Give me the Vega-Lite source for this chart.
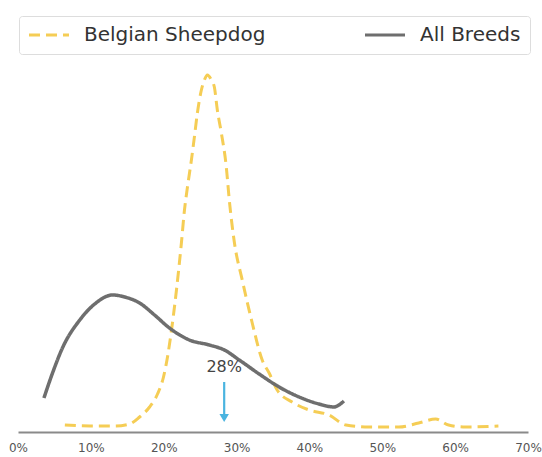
{
  "$schema": "https://vega.github.io/schema/vega-lite/v6.json",
  "autosize": "none",
  "width": 510,
  "height": 372,
  "padding": {"left": 18, "top": 60, "right": 14, "bottom": 25},
  "background": "white",
  "config": {
    "view": {"stroke": null},
    "font": "DejaVu Sans",
    "legend": {"title": null, "orient": "none", "legendX": 1, "legendY": -44, "direction": "horizontal",
               "symbolType": "M-4,0H4", "symbolSize": 100, "symbolStrokeWidth": 3, "symbolOffset": 11,
               "labelFontSize": 20, "labelColor": "#333333", "labelOffset": 25, "labelLimit": 400, "columnPadding": 93,
               "padding": 9, "strokeColor": "#dddddd", "fillColor": "white", "cornerRadius": 3}
  },
  "datasets": {
    "curves": [
      {"series": "Belgian Sheepdog", "pct": 6.43, "dens": 7},
      {"series": "Belgian Sheepdog", "pct": 9.85, "dens": 6},
      {"series": "Belgian Sheepdog", "pct": 13.27, "dens": 6},
      {"series": "Belgian Sheepdog", "pct": 15.32, "dens": 8},
      {"series": "Belgian Sheepdog", "pct": 16.69, "dens": 15},
      {"series": "Belgian Sheepdog", "pct": 18.06, "dens": 25},
      {"series": "Belgian Sheepdog", "pct": 19.15, "dens": 38},
      {"series": "Belgian Sheepdog", "pct": 19.97, "dens": 55},
      {"series": "Belgian Sheepdog", "pct": 20.52, "dens": 75},
      {"series": "Belgian Sheepdog", "pct": 21.07, "dens": 102},
      {"series": "Belgian Sheepdog", "pct": 21.75, "dens": 142},
      {"series": "Belgian Sheepdog", "pct": 22.44, "dens": 190},
      {"series": "Belgian Sheepdog", "pct": 22.85, "dens": 222},
      {"series": "Belgian Sheepdog", "pct": 23.26, "dens": 245},
      {"series": "Belgian Sheepdog", "pct": 23.8, "dens": 272},
      {"series": "Belgian Sheepdog", "pct": 24.21, "dens": 295},
      {"series": "Belgian Sheepdog", "pct": 24.62, "dens": 319},
      {"series": "Belgian Sheepdog", "pct": 25.17, "dens": 342},
      {"series": "Belgian Sheepdog", "pct": 25.58, "dens": 352},
      {"series": "Belgian Sheepdog", "pct": 25.99, "dens": 357},
      {"series": "Belgian Sheepdog", "pct": 26.54, "dens": 352},
      {"series": "Belgian Sheepdog", "pct": 26.95, "dens": 345},
      {"series": "Belgian Sheepdog", "pct": 27.36, "dens": 322},
      {"series": "Belgian Sheepdog", "pct": 27.91, "dens": 299},
      {"series": "Belgian Sheepdog", "pct": 28.59, "dens": 265},
      {"series": "Belgian Sheepdog", "pct": 29.0, "dens": 232},
      {"series": "Belgian Sheepdog", "pct": 29.69, "dens": 190},
      {"series": "Belgian Sheepdog", "pct": 30.78, "dens": 152},
      {"series": "Belgian Sheepdog", "pct": 32.15, "dens": 109},
      {"series": "Belgian Sheepdog", "pct": 33.52, "dens": 72},
      {"series": "Belgian Sheepdog", "pct": 34.47, "dens": 59},
      {"series": "Belgian Sheepdog", "pct": 35.57, "dens": 42},
      {"series": "Belgian Sheepdog", "pct": 37.62, "dens": 30},
      {"series": "Belgian Sheepdog", "pct": 39.95, "dens": 22},
      {"series": "Belgian Sheepdog", "pct": 42.68, "dens": 17},
      {"series": "Belgian Sheepdog", "pct": 45.01, "dens": 7},
      {"series": "Belgian Sheepdog", "pct": 48.15, "dens": 5},
      {"series": "Belgian Sheepdog", "pct": 52.26, "dens": 5},
      {"series": "Belgian Sheepdog", "pct": 55.0, "dens": 9},
      {"series": "Belgian Sheepdog", "pct": 57.32, "dens": 13},
      {"series": "Belgian Sheepdog", "pct": 59.1, "dens": 7},
      {"series": "Belgian Sheepdog", "pct": 61.42, "dens": 5},
      {"series": "Belgian Sheepdog", "pct": 65.94, "dens": 6},
      {"series": "All Breeds", "pct": 3.56, "dens": 34},
      {"series": "All Breeds", "pct": 4.79, "dens": 60},
      {"series": "All Breeds", "pct": 6.16, "dens": 85},
      {"series": "All Breeds", "pct": 8.48, "dens": 112},
      {"series": "All Breeds", "pct": 10.53, "dens": 128},
      {"series": "All Breeds", "pct": 13.0, "dens": 137},
      {"series": "All Breeds", "pct": 14.64, "dens": 135},
      {"series": "All Breeds", "pct": 16.69, "dens": 129},
      {"series": "All Breeds", "pct": 18.74, "dens": 117},
      {"series": "All Breeds", "pct": 20.79, "dens": 104},
      {"series": "All Breeds", "pct": 23.53, "dens": 92},
      {"series": "All Breeds", "pct": 26.27, "dens": 87},
      {"series": "All Breeds", "pct": 28.32, "dens": 82},
      {"series": "All Breeds", "pct": 30.37, "dens": 72},
      {"series": "All Breeds", "pct": 33.1, "dens": 58},
      {"series": "All Breeds", "pct": 35.84, "dens": 45},
      {"series": "All Breeds", "pct": 38.58, "dens": 35},
      {"series": "All Breeds", "pct": 41.31, "dens": 28},
      {"series": "All Breeds", "pct": 43.37, "dens": 25},
      {"series": "All Breeds", "pct": 44.05, "dens": 27},
      {"series": "All Breeds", "pct": 44.73, "dens": 31}
    ],
    "marker": [
      {"pct": 28.3, "top": 50, "bottom": 17, "tip": 14, "labelY": 65, "label": "28%"}
    ]
  },
  "layer": [
    {
      "data": {"name": "curves"},
      "transform": [{"filter": "datum.series === 'Belgian Sheepdog'"}],
      "mark": {"type": "line", "interpolate": "monotone", "strokeWidth": 3},
      "encoding": {
        "x": {"field": "pct", "type": "quantitative", "scale": {"domain": [0, 70], "nice": false, "zero": false},
              "axis": {"values": [0, 10, 20, 30, 40, 50, 60, 70], "labelExpr": "datum.value + '%'", "ticks": false, "grid": false,
                       "domainColor": "#8a8a8a", "domainWidth": 2, "labelColor": "#555555", "labelFontSize": 12, "labelPadding": 10,
                       "labelFlush": false, "labelOverlap": false, "title": null}},
        "y": {"field": "dens", "type": "quantitative", "scale": {"domain": [0, 372], "nice": false}, "axis": null},
        "color": {"field": "series", "type": "nominal",
                  "scale": {"domain": ["Belgian Sheepdog", "All Breeds"], "range": ["#f5cd55", "#6e6e6e"]},
                  "legend": {"encode": {"symbols": {"update": {"strokeDash": {"signal": "datum.value === 'Belgian Sheepdog' ? [12, 11] : [1, 0]"}}}}}},
        "strokeDash": {"field": "series", "type": "nominal",
                       "scale": {"domain": ["Belgian Sheepdog", "All Breeds"], "range": [[11, 6], [1, 0]]},
                       "legend": {"encode": {"symbols": {"update": {"strokeDash": {"signal": "datum.value === 'Belgian Sheepdog' ? [12, 11] : [1, 0]"}}}}}}
      }
    },
    {
      "data": {"name": "curves"},
      "transform": [{"filter": "datum.series === 'All Breeds'"}],
      "mark": {"type": "line", "interpolate": "monotone", "strokeWidth": 3.5},
      "encoding": {
        "x": {"field": "pct", "type": "quantitative"},
        "y": {"field": "dens", "type": "quantitative"},
        "color": {"field": "series", "type": "nominal"},
        "strokeDash": {"field": "series", "type": "nominal"}
      }
    },
    {
      "data": {"name": "marker"},
      "mark": {"type": "rule", "color": "#4ab4e0", "strokeWidth": 2.2},
      "encoding": {
        "x": {"field": "pct", "type": "quantitative"},
        "y": {"field": "top", "type": "quantitative"},
        "y2": {"field": "bottom"}
      }
    },
    {
      "data": {"name": "marker"},
      "mark": {"type": "point", "shape": "triangle-down", "filled": true, "color": "#4ab4e0", "size": 90, "opacity": 1},
      "encoding": {
        "x": {"field": "pct", "type": "quantitative"},
        "y": {"field": "tip", "type": "quantitative"}
      }
    },
    {
      "data": {"name": "marker"},
      "mark": {"type": "text", "fontSize": 16, "color": "#444444", "baseline": "middle", "align": "center"},
      "encoding": {
        "x": {"field": "pct", "type": "quantitative"},
        "y": {"field": "labelY", "type": "quantitative"},
        "text": {"field": "label"}
      }
    }
  ]
}
